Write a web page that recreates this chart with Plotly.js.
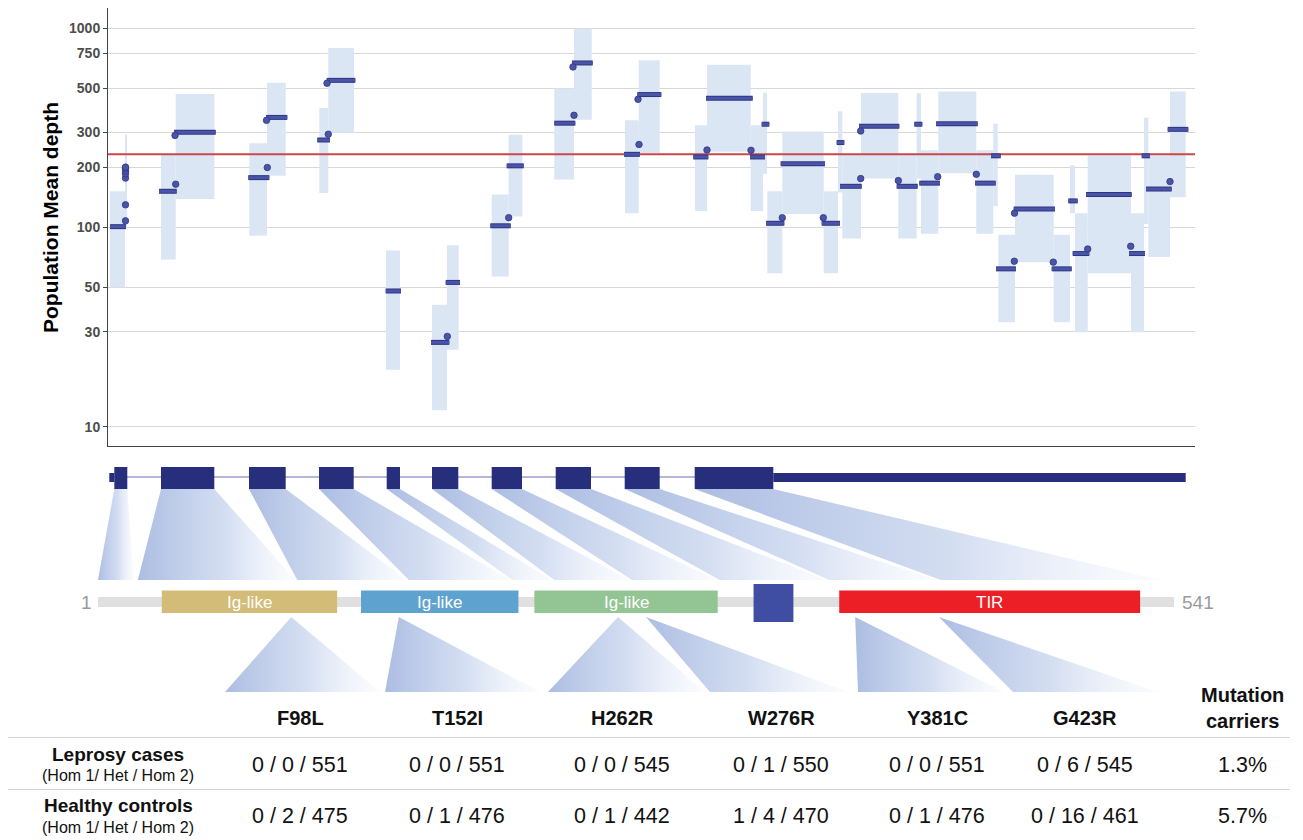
<!DOCTYPE html>
<html><head><meta charset="utf-8">
<script src="https://cdn.plot.ly/plotly-3.0.1.min.js"></script>
<style>html,body{margin:0;padding:0;background:#fff}#chart{width:1303px;height:840px}</style>
</head><body><div id="chart"></div>
<script>
// ================= DATA =================
// Depth plot: light-blue range boxes (gene position units, depth)
const boxStart = [2,17,53,67.7,141.3,159,211.3,220.3,278,324,339,383.7,400.7,446.3,466,517,530.7,587,599,642.7,655,659.3,674.3,715.7,730,734.3,753,790.3,808.7,813,830.3,868.3,885.3,890.3,907,945.7,962,967,979.7,1023,1036,1040.3,1062];
const boxEnd   = [17,19,67.7,106.3,159,177.7,220.3,246,292,339,350.7,400.7,414.3,466,483.7,530.7,551.7,599,642.7,655,659,674.3,715.7,730,734.3,753,790.3,808.7,813,830.3,868.3,885.3,889.7,907,945.7,962,967,979.7,1023,1036,1040.3,1062,1077.7];
const boxLow   = [50,100,69,139,91,182,149,299,19.3,12.1,24.3,56.7,113.6,174,348,118,236,121,240,121,186,59,117,59,150,88,176,88,176,93,187,93,128,33.4,67,33.4,118,29.8,59,29.8,104,71,142];
const boxHigh  = [152,293,233,468,265,533,398,796,76.6,40.9,81.5,146.5,292,498,996,345,691,326,657,326,475,152,303,152,383,232,473,232,473,244,482,244,332,92,184,92,205,118,230,118,356,230,482];
// Population mean depth runs (dark segments)
const segStart = [2,51,66,140.3,158,209.3,218.7,277.7,323,337.7,382.3,398.7,446.3,464,516,529.3,585.3,598,642,653.7,658,672.7,713.7,728.7,732,751,788.7,806.3,811.3,828,867,883,888,905.7,943.7,960.3,964.7,978,1021,1033.7,1038,1059.7];
const segEnd   = [18,68.7,107.7,161.3,179.3,222,247.3,293,341.3,352,402.7,415.7,467.3,484.7,532,553.3,600.3,644.7,657,661.3,676.3,717,732,736.3,753.7,791.3,809.7,814.3,832,869.7,887.7,892.7,908,947,963.7,969.7,981.3,1023.7,1037,1042,1063.7,1080.3];
const segDepth = [101,152,301,178,357,275,548,48,26.5,53,102,204,334,670,233,465,226,445,226,330,105,209,105,267,161,322,161,330,167,332,167,229,62,124,62,136,74,146.5,74,229,156,311];
// isolated positions
const dotPos   = [17.5,17.5,17.5,17.5,17.5,17.5,17.5,67.7,67,159.3,158.5,220.3,219,339.3,400.7,466,465,531,530,599,643,674.3,715.3,752.7,752.7,790.3,829.7,868.3,906.3,906.5,945.3,979.7,1022.7,1062];
const dotDepth = [108,130,177,186,192,198,201,165,290,200,345,294,530,28.4,112,366,640,261,440,245,244,112,112,176,305,172,180,185,67.7,118,67,78,80.5,170];
const thresholdDepth = 233;
const yTickVals = [10,30,50,100,200,300,500,750,1000];
const yTickText = ['10','30','50','100','200','300','500','750','1000'];
const geneRange = [0,1087];

// Gene model (same gene position units)
const utr5Start = 1.3;
const exonStart = [6.3,53,141,211,278.7,324,383.7,447.7,516.7,586.7];
const exonEnd   = [19.3,106.3,177.7,245.7,292,350.3,414,483,551.7,665.3];
const utr3End = 1077.7;
const exonAAStart = [1,21,101,157,209,230,269,313,368,424];
const exonAAEnd   = [19,100,156,208,229,268,312,367,422,534];

// Protein
const proteinLength = 541;
const domainName  = ['Ig-like','Ig-like','Ig-like','','TIR'];
const domainStart = [33,133,220,330,373];
const domainEnd   = [121,212,312,350,524];
const domainColor = ['#d3bb78','#5ea3cf','#93c594','#3f4ea2','#ec1f27'];

// Mutations table
const mutations = ['F98L','T152I','H262R','W276R','Y381C','G423R'];
const mutationResidue = [98,152,262,276,381,423];
const leprosyCounts = ['0 / 0 / 551','0 / 0 / 551','0 / 0 / 545','0 / 1 / 550','0 / 0 / 551','0 / 6 / 545'];
const controlCounts = ['0 / 2 / 475','0 / 1 / 476','0 / 1 / 442','1 / 4 / 470','0 / 1 / 476','0 / 16 / 461'];
const carriers = ['1.3%','5.7%'];
const rowLabels = ['Leprosy cases','Healthy controls'];
const rowSub = '(Hom 1/ Het / Hom 2)';

// ================= LAYOUT GEOMETRY =================
const W = 1303, H = 840;
const PL = 108, PR = 1195, PT = 8, PB = 446;
const FONT = 'Liberation Sans, Arial, Helvetica, sans-serif';
const gPx = p => PL + (p - geneRange[0]) / (geneRange[1] - geneRange[0]) * (PR - PL);
const protL = 98, protR = 1174;
const aPx = r => protL + (r - 1) / (proteinLength - 1) * (protR - protL);
const exonTop = 467, exonBot = 489, utrTop = 473, utrBot = 482, intronY = 477;
const wedgeTop = 489, wedgeBot = 580;
const barTop = 597, barBot = 607, domTop = 590.5, domBot = 613, tmTop = 584, tmBot = 622;
const triTop = 617, triBot = 692;
const triBaseL = [225,385,548,710,858,1013];
const triBaseR = [380,540,705,848,1004,1158];
const colX = [300,457,622,781,937,1085];
const carrierX = 1242, rowLabelX = 118;

const traces = [];
const ov = {xaxis:'x2', yaxis:'y2', hoverinfo:'skip', showlegend:false};

// ---- depth boxes ----
for (let i = 0; i < boxStart.length; i++) {
  traces.push({type:'scatter', mode:'none', fill:'toself', fillcolor:'#dbe6f5',
    x:[boxStart[i], boxEnd[i], boxEnd[i], boxStart[i], boxStart[i]],
    y:[boxLow[i], boxLow[i], boxHigh[i], boxHigh[i], boxLow[i]],
    hoverinfo:'skip', showlegend:false});
}
// ---- threshold ----
traces.push({type:'scatter', mode:'lines', x:geneRange, y:[thresholdDepth, thresholdDepth],
  line:{color:'#c9484a', width:2}, hoverinfo:'skip', showlegend:false});
// ---- segments ----
const sx = [], sy = [];
for (let i = 0; i < segStart.length; i++) { sx.push(segStart[i], segEnd[i], null); sy.push(segDepth[i], segDepth[i], null); }
traces.push({type:'scatter', mode:'lines', x:sx, y:sy, line:{color:'#2e3684', width:5}, hoverinfo:'skip', showlegend:false});
traces.push({type:'scatter', mode:'lines', x:sx, y:sy, line:{color:'#4a55a8', width:3}, hoverinfo:'skip', showlegend:false});
traces.push({type:'scatter', mode:'markers', x:dotPos, y:dotDepth,
  marker:{color:'#4a55a8', size:6.5, line:{color:'#2e3684', width:0.8}}, hoverinfo:'skip', showlegend:false});

// ---- wedges exon -> protein ----
for (let i = 0; i < exonStart.length; i++) {
  traces.push(Object.assign({type:'scatter', mode:'none', fill:'toself', fillcolor:'rgba(185,200,232,0.6)',
    fillgradient:{type:'horizontal', colorscale:[[0,'rgba(172,189,226,1)'],[0.55,'rgba(200,213,238,0.8)'],[1,'rgba(235,241,251,0.25)']]},
    x:[gPx(exonStart[i]), gPx(exonEnd[i]), aPx(exonAAEnd[i]), aPx(exonAAStart[i]), gPx(exonStart[i])],
    y:[wedgeTop, wedgeTop, wedgeBot, wedgeBot, wedgeTop]}, ov));
}
// ---- gene model ----
traces.push(Object.assign({type:'scatter', mode:'lines', x:[gPx(utr5Start), gPx(exonEnd[exonEnd.length-1])], y:[intronY, intronY],
  line:{color:'#b4b8d6', width:2}}, ov));
function rect(x0, x1, y0, y1, color) {
  return Object.assign({type:'scatter', mode:'none', fill:'toself', fillcolor:color,
    x:[x0, x1, x1, x0, x0], y:[y0, y0, y1, y1, y0]}, ov);
}
traces.push(rect(gPx(utr5Start), gPx(exonStart[0]), utrTop, utrBot, '#272e7b'));
for (let i = 0; i < exonStart.length; i++) traces.push(rect(gPx(exonStart[i]), gPx(exonEnd[i]), exonTop, exonBot, '#272e7b'));
traces.push(rect(gPx(exonEnd[exonEnd.length-1]), gPx(utr3End), utrTop, utrBot, '#272e7b'));

// ---- protein ----
traces.push(rect(aPx(1), aPx(proteinLength), barTop, barBot, '#e0e0e0'));
for (let i = 0; i < domainStart.length; i++) {
  const tm = domainName[i] === '';
  traces.push(rect(aPx(domainStart[i]), aPx(domainEnd[i]), tm ? tmTop : domTop, tm ? tmBot : domBot, domainColor[i]));
}
// ---- triangles protein -> mutations ----
for (let i = 0; i < mutationResidue.length; i++) {
  traces.push(Object.assign({type:'scatter', mode:'none', fill:'toself', fillcolor:'rgba(185,200,232,0.6)',
    fillgradient:{type:'horizontal', colorscale:[[0,'rgba(172,189,226,1)'],[0.5,'rgba(200,213,238,0.8)'],[1,'rgba(235,241,251,0.25)']]},
    x:[aPx(mutationResidue[i]), triBaseR[i], triBaseL[i], aPx(mutationResidue[i])],
    y:[triTop, triBot, triBot, triTop]}, ov));
}
// ---- table rules ----
traces.push(Object.assign({type:'scatter', mode:'lines', x:[8,1290,null,8,1290], y:[737.5,737.5,null,789.5,789.5],
  line:{color:'#d4d4d4', width:1}}, ov));

// ================= ANNOTATIONS =================
const ann = [];
function txt(x, y, text, size, opts) {
  ann.push(Object.assign({xref:'x2', yref:'y2', x:x, y:y, text:text, showarrow:false,
    xanchor:'center', yanchor:'middle', font:{family:FONT, size:size, color:'#111'}}, opts || {}));
}
txt(50, 218, '<b>Population Mean depth</b>', 21, {textangle:-90, font:{family:FONT, size:21, color:'#000'}});
for (let i = 0; i < domainName.length; i++) {
  if (domainName[i]) txt((aPx(domainStart[i]) + aPx(domainEnd[i])) / 2, 602, domainName[i], 17, {font:{family:FONT, size:17, color:'#ffffff'}});
}
txt(aPx(1) - 4, 602, '1', 19, {xanchor:'right', font:{family:FONT, size:19, color:'#9a9a9a'}});
txt(aPx(proteinLength) + 6, 602, String(proteinLength), 19, {xanchor:'left', font:{family:FONT, size:19, color:'#9a9a9a'}});
for (let i = 0; i < mutations.length; i++) {
  txt(colX[i], 718, '<b>' + mutations[i] + '</b>', 20);
  txt(colX[i], 765, leprosyCounts[i], 21.5);
  txt(colX[i], 816, controlCounts[i], 21.5);
}
txt(carrierX, 708, '<b>Mutation<br>carriers</b>', 20);
txt(carrierX, 765, carriers[0], 21.5);
txt(carrierX, 816, carriers[1], 21.5);
txt(rowLabelX, 754, '<b>' + rowLabels[0] + '</b>', 19);
txt(rowLabelX, 775, rowSub, 16);
txt(rowLabelX, 805, '<b>' + rowLabels[1] + '</b>', 19);
txt(rowLabelX, 827, rowSub, 16);

const layout = {
  width: W, height: H, margin:{l:0, r:0, t:0, b:0},
  paper_bgcolor:'#ffffff', plot_bgcolor:'rgba(0,0,0,0)', showlegend:false,
  font:{family:FONT},
  xaxis:{domain:[PL / W, PR / W], range:geneRange, showgrid:false, zeroline:false, showticklabels:false,
    ticks:'', showline:true, linecolor:'#444', linewidth:1, fixedrange:true},
  yaxis:{domain:[1 - PB / H, 1 - PT / H], type:'log', range:[0.903, 3.102], tickvals:yTickVals, ticktext:yTickText,
    showgrid:true, gridcolor:'#d8d8d8', gridwidth:1, zeroline:false, showline:true, linecolor:'#444', linewidth:1,
    ticks:'outside', ticklen:4, tickcolor:'#444', tickfont:{family:FONT, size:14, color:'#4d4d4d', weight:'bold'}, fixedrange:true},
  xaxis2:{domain:[0, 1], range:[0, W], visible:false, fixedrange:true, anchor:'y2'},
  yaxis2:{domain:[0, 1], range:[H, 0], visible:false, fixedrange:true, anchor:'x2'},
  annotations: ann
};
Plotly.newPlot('chart', traces, layout, {staticPlot:true, displayModeBar:false});
</script></body></html>
